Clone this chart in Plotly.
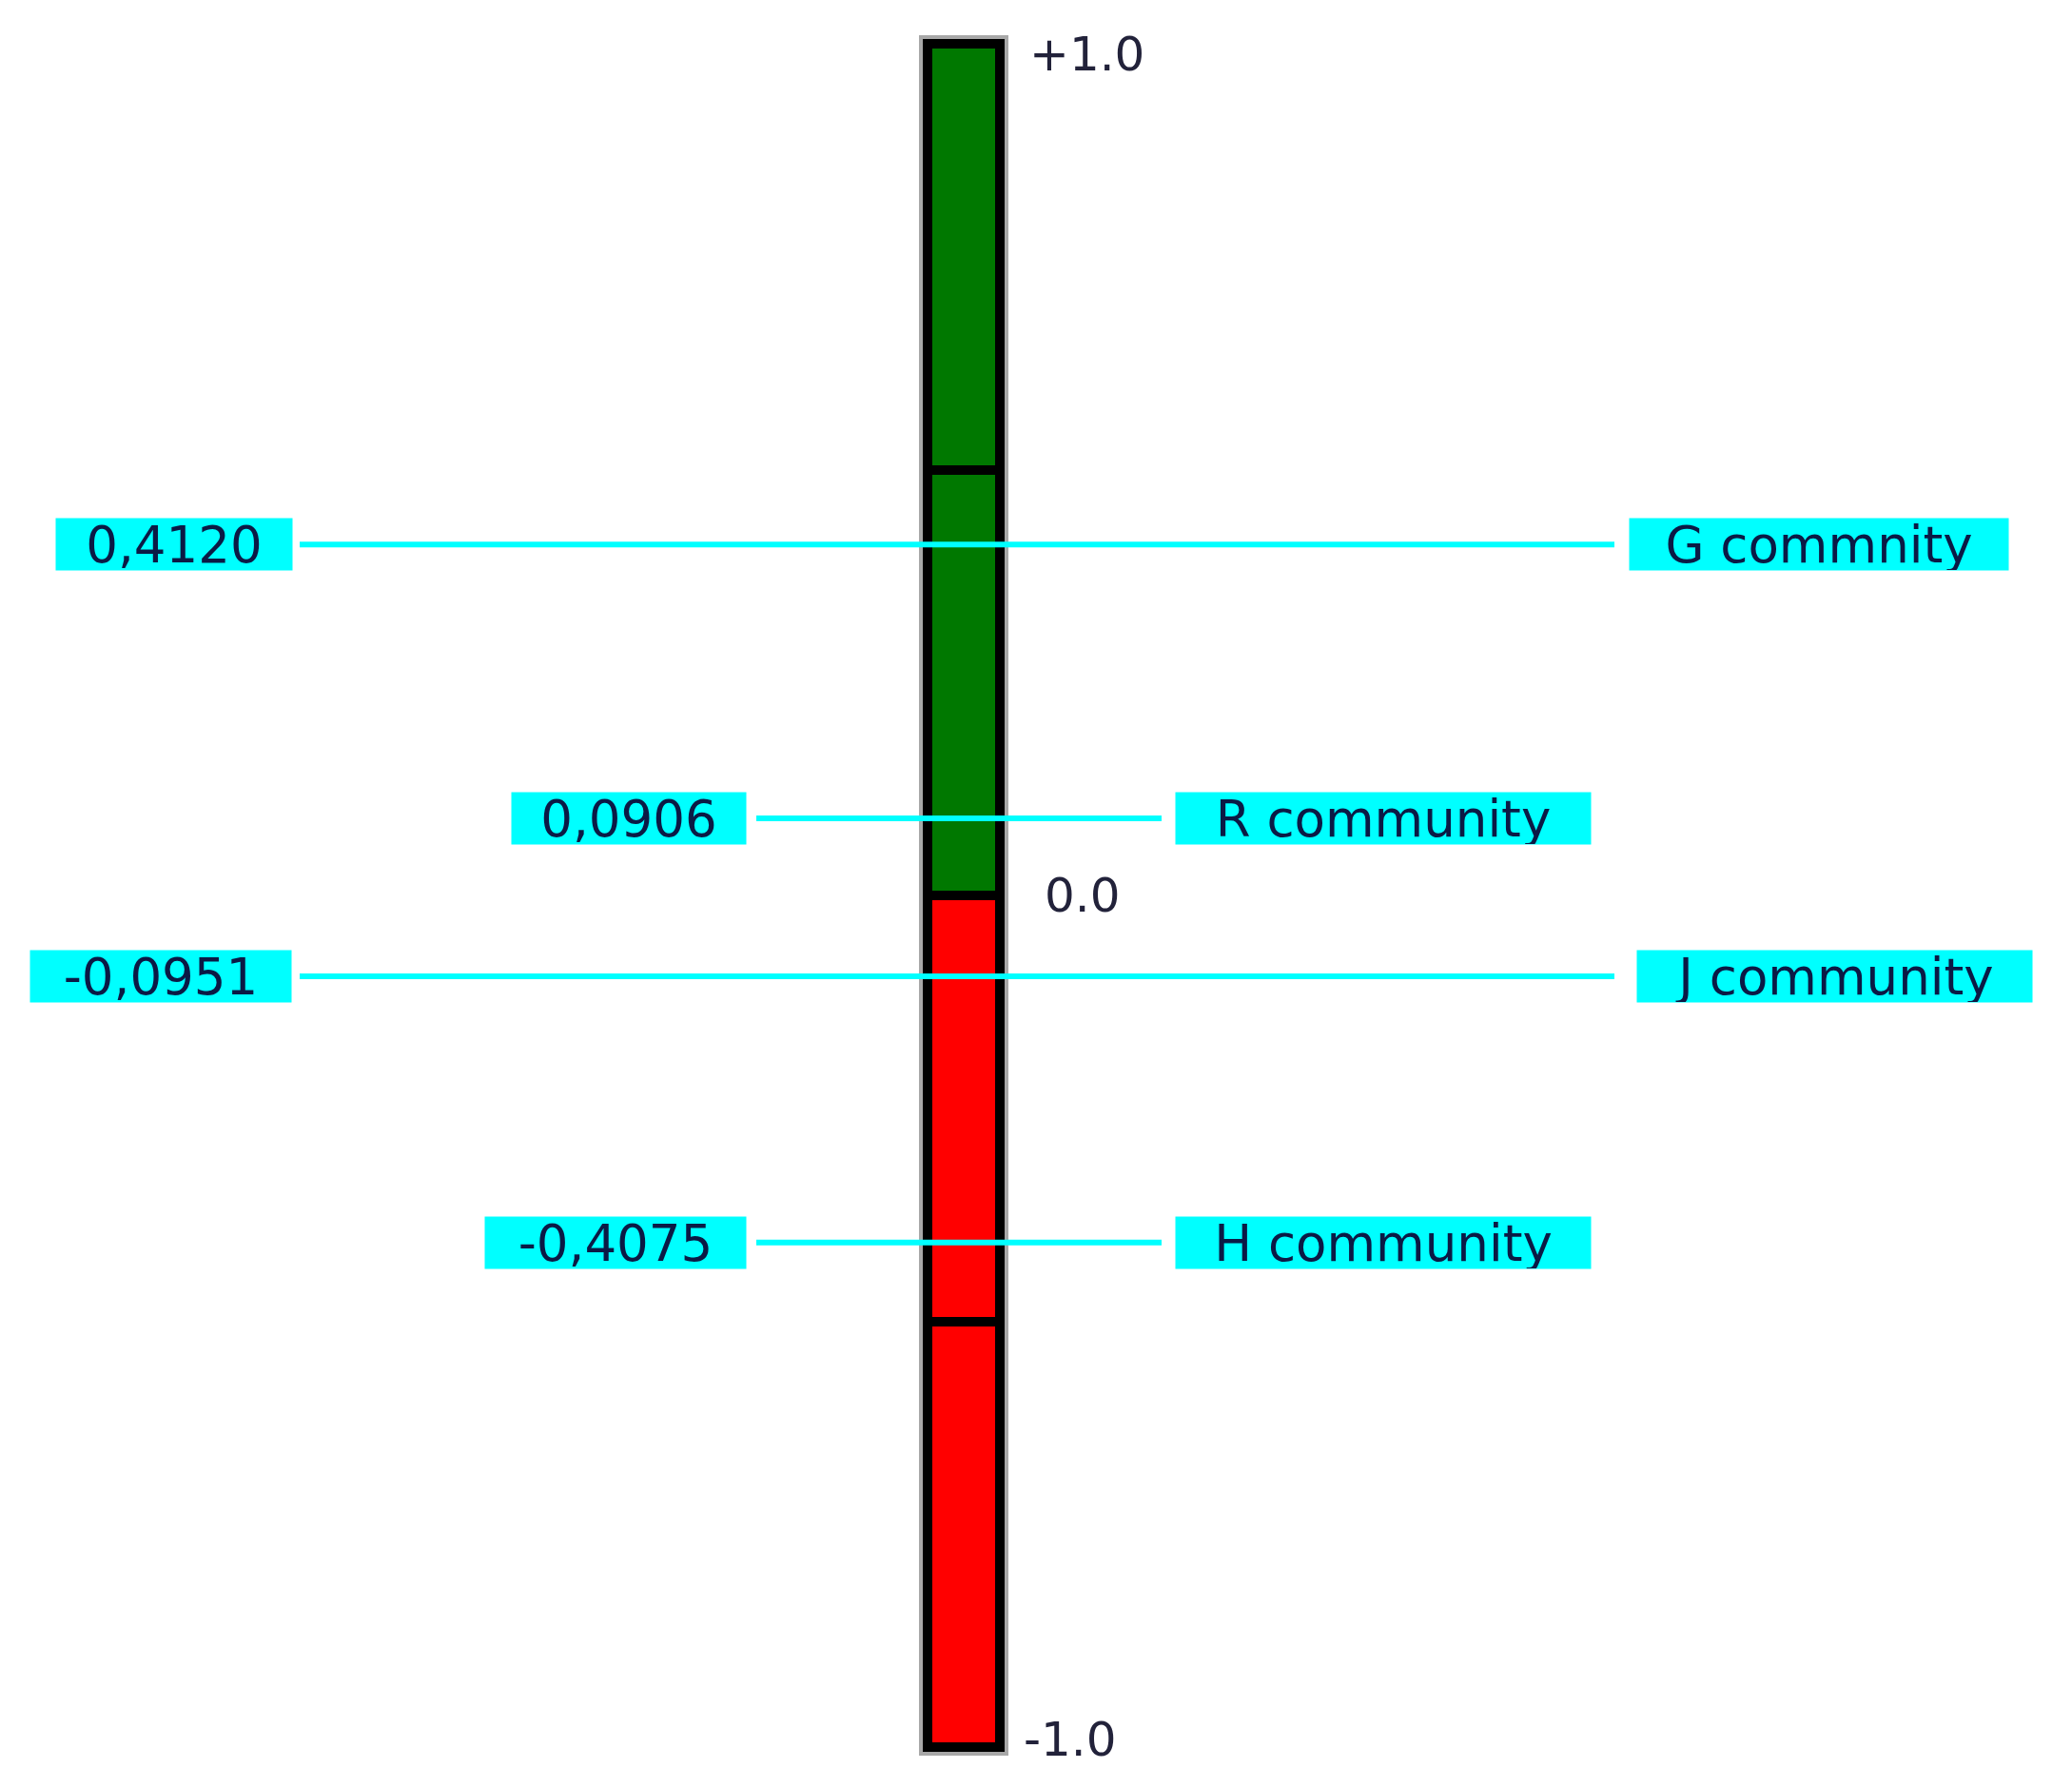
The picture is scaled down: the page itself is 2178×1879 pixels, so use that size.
import plotly.graph_objects as go

# ---------------- data ----------------
communities = ["G commnity", "R community", "J community", "H community"]
values = [0.4120, 0.0906, -0.0951, -0.4075]
value_labels = ["0,4120", "0,0906", "-0,0951", "-0,4075"]

segment_start = [0.5, 0.0, -0.5, -1.0]
segment_end = [1.0, 0.5, 0.0, -0.5]
segment_colors = ["#007800", "#007800", "#ff0000", "#ff0000"]

scale_ticks = [1.0, 0.0, -1.0]
scale_tick_text = ["+1.0", "0.0", "-1.0"]

# ---------------- layout constants ----------------
W, H = 2178, 1879
PAGE_OFF = 8          # default body margin of the html page
BAR_X = 1013
BAR_W = 76
# page pixel rows of +1 / -1
Y_TOP_PX, Y_BOT_PX = 46, 1836
scale = (Y_BOT_PX - Y_TOP_PX) / 2.0
y_hi = 1 + (Y_TOP_PX - PAGE_OFF) / scale
y_lo = y_hi - H / scale

line_x0 = [315, 795, 315, 795]
line_x1 = [1697, 1221, 1697, 1221]
left_box_right = [308, 785, 307, 785]
left_box_w = [248, 246, 274, 274]
right_box_left = [1712, 1235, 1720, 1235]
right_box_w = [398, 436, 415, 436]
BOX_H = 54

tick_x = [1080, 1096, 1074]
tick_shift = [-11, 0, 8]

CYAN = "#00ffff"
TEXT = "#0b1a45"
FONT = "DejaVu Sans"

fig = go.Figure()

# gray backing outline of the whole bar
fig.add_trace(go.Bar(
    x=[BAR_X], base=[min(segment_start)], y=[max(segment_end) - min(segment_start)],
    width=BAR_W, marker=dict(color="#a8a8a8", line=dict(color="#a8a8a8", width=18)),
    hoverinfo="skip", showlegend=False))

# coloured segments
fig.add_trace(go.Bar(
    x=[BAR_X] * len(segment_start), base=segment_start,
    y=[e - s for s, e in zip(segment_start, segment_end)],
    width=BAR_W, marker=dict(color=segment_colors, line=dict(color="#000000", width=10)),
    hoverinfo="skip", showlegend=False))

# cyan indicator lines
for i, v in enumerate(values):
    fig.add_trace(go.Scatter(
        x=[line_x0[i], line_x1[i]], y=[v, v], mode="lines",
        line=dict(color=CYAN, width=6), hoverinfo="skip", showlegend=False))

annotations = []
for i, v in enumerate(values):
    annotations.append(dict(
        x=left_box_right[i], y=v, xref="x", yref="y", text=value_labels[i],
        showarrow=False, xanchor="right", yanchor="middle",
        width=left_box_w[i], height=BOX_H, align="center", valign="middle",
        bgcolor=CYAN, borderpad=0,
        font=dict(family=FONT, size=53, color=TEXT)))
    annotations.append(dict(
        x=right_box_left[i], y=v, xref="x", yref="y", text=communities[i],
        showarrow=False, xanchor="left", yanchor="middle",
        width=right_box_w[i], height=BOX_H, align="center", valign="middle",
        bgcolor=CYAN, borderpad=0,
        font=dict(family=FONT, size=53, color=TEXT)))

for i, t in enumerate(scale_ticks):
    annotations.append(dict(
        x=tick_x[i], y=t, xref="x", yref="y", text=scale_tick_text[i],
        showarrow=False, xanchor="left", yanchor="middle", yshift=tick_shift[i],
        font=dict(family=FONT, size=50, color="#22223a")))

fig.update_layout(
    width=W, height=H,
    margin=dict(l=0, r=0, t=0, b=0),
    paper_bgcolor="white", plot_bgcolor="white",
    barmode="overlay", bargap=0,
    xaxis=dict(range=[PAGE_OFF, W + PAGE_OFF], visible=False, fixedrange=True),
    yaxis=dict(range=[y_lo, y_hi], visible=False, fixedrange=True),
    annotations=annotations,
    showlegend=False,
)

fig.write_html("out.html")
